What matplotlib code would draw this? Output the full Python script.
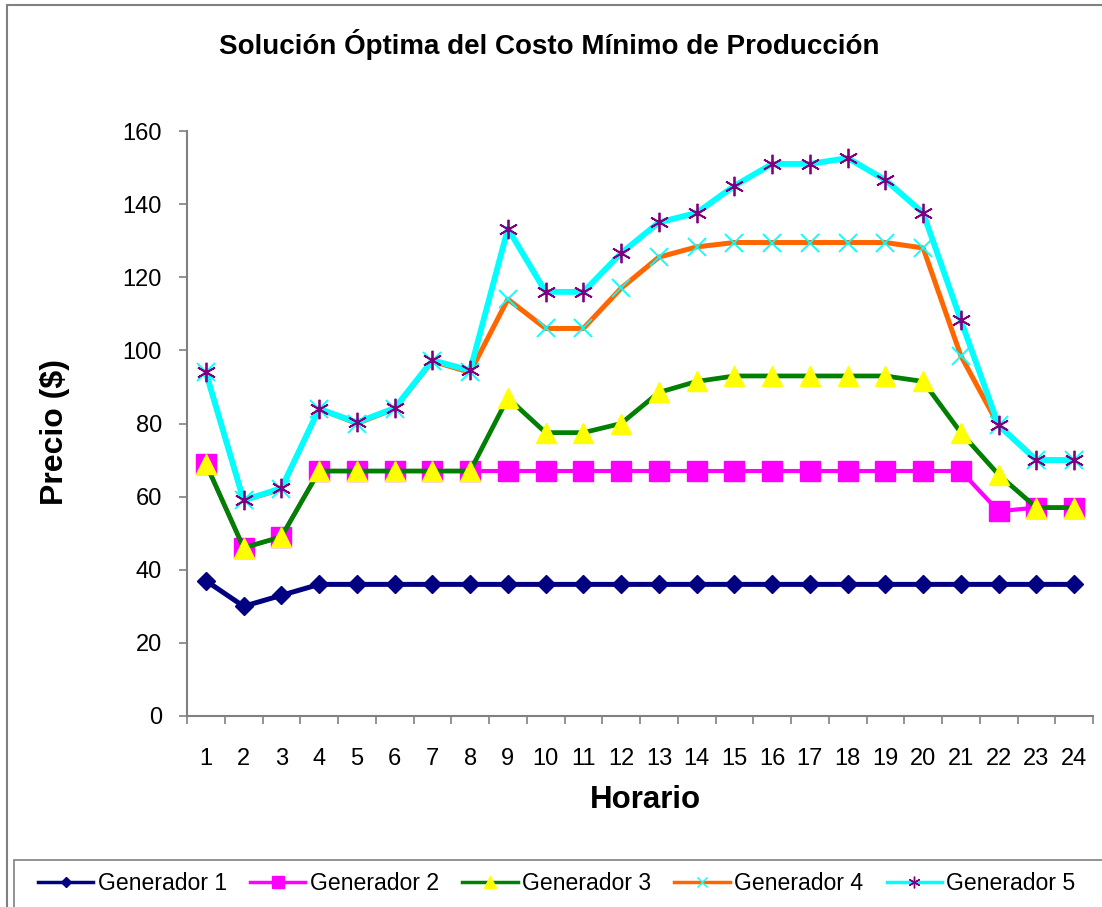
import matplotlib.pyplot as plt
from matplotlib.lines import Line2D
from matplotlib.patches import Rectangle

plt.rcParams['font.family'] = ['Liberation Sans', 'DejaVu Sans']

# datos
horas = list(range(1, 25))
gen1 = [37, 30, 33, 36, 36, 36, 36, 36, 36, 36, 36, 36,
        36, 36, 36, 36, 36, 36, 36, 36, 36, 36, 36, 36]
gen2 = [69, 46, 49, 67, 67, 67, 67, 67, 67, 67, 67, 67,
        67, 67, 67, 67, 67, 67, 67, 67, 67, 56, 57, 57]
gen3 = [69, 46, 49, 67, 67, 67, 67, 67, 87, 77.5, 77.5, 80,
        88.5, 91.5, 93, 93, 93, 93, 93, 91.5, 77.5, 66, 57, 57]
gen4 = [94, 59, 62, 84, 80, 84, 97, 94, 114, 106, 106, 117,
        125.5, 128.3, 129.5, 129.5, 129.5, 129.5, 129.5, 128, 98.5, 79.5, 70, 70]
gen5 = [94, 59, 62.3, 84, 80.3, 84.2, 97.3, 94.5, 133.3, 116, 116, 126.6,
        135, 137.6, 145, 151, 151, 152.6, 146.6, 137.6, 108.2, 79.5, 70, 70]
nombres = ['Generador 1', 'Generador 2', 'Generador 3', 'Generador 4', 'Generador 5']

W, H = 1102, 907
fig = plt.figure(figsize=(W / 100, H / 100), dpi=100)
ax = fig.add_axes([187 / W, 1 - 716 / H, (1093 - 187) / W, (716 - 131) / H])

# estilo de cada serie: color linea, marcador, tam, relleno, borde
estilos = [
    dict(color='#000080', marker='D', ms=9, mfc='#000080', mec='#000080', mew=1),
    dict(color='#FF00FF', marker='s', ms=14, mfc='#FF00FF', mec='#FF00FF', mew=1),
    dict(color='#008000', marker='^', ms=15, mfc='#FFFF00', mec='#FFFF00', mew=1),
    dict(color='#FF6600', marker='x', ms=13, mfc='none', mec='#00FFFF', mew=1.3),
    dict(color='#00FFFF', marker=(6, 2, 0), ms=14, mfc='none', mec='#800080', mew=1.3),
]
series = [gen1, gen2, gen3, gen4, gen5]
anchos = [3.6, 3.0, 3.4, 3.6, 4.2]

for i, (y, st) in enumerate(zip(series, estilos)):
    ax.plot(horas, y, color=st['color'], lw=anchos[i], marker=st['marker'],
            markersize=st['ms'], markerfacecolor=st['mfc'],
            markeredgecolor=st['mec'], markeredgewidth=st['mew'],
            zorder=3 + i, clip_on=False)

ax.set_xlim(0.5, 24.5)
ax.set_ylim(0, 160)
ax.set_yticks(range(0, 161, 20))
ax.set_xticks(horas)
ax.set_xticklabels([str(h) for h in horas])
ax.set_xticks([h + 0.5 for h in range(0, 25)], minor=True)
ax.tick_params(axis='x', which='major', length=0, pad=23, labelsize=17)
ax.tick_params(axis='x', which='minor', length=6, width=1.2, color='#808080', direction='out')
ax.tick_params(axis='y', which='major', length=6, width=1.2, color='#808080',
               direction='out', pad=12, labelsize=17)
for s in ['top', 'right']:
    ax.spines[s].set_visible(False)
for s in ['left', 'bottom']:
    ax.spines[s].set_color('#808080')
    ax.spines[s].set_linewidth(1.5)

fig.text(549 / W, 1 - 45 / H, 'Solución Óptima del Costo Mínimo de Producción',
         ha='center', va='center', fontsize=20, fontweight='bold')
fig.text(55 / W, 1 - 432 / H, 'Precio ($)', ha='center', va='center',
         rotation=90, fontsize=23, fontweight='bold')
fig.text(645 / W, 1 - 800 / H, 'Horario', ha='center', va='center',
         fontsize=22.5, fontweight='bold')

# bordes del grafico y de la leyenda
fig.add_artist(Rectangle((7 / W, 1 - 920 / H), 1200 / W, (920 - 5) / H,
                         transform=fig.transFigure, fill=False,
                         edgecolor='#808080', lw=1.5, clip_on=False))
fig.add_artist(Rectangle((14 / W, 1 - 920 / H), 1200 / W, (920 - 860) / H,
                         transform=fig.transFigure, fill=False,
                         edgecolor='#808080', lw=1.2, clip_on=False))

handles = []
for i, st in enumerate(estilos):
    handles.append(Line2D([], [], color=st['color'], lw=2.5, marker=st['marker'],
                          markersize=st['ms'] * 0.6, markerfacecolor=st['mfc'],
                          markeredgecolor=st['mec'], markeredgewidth=1))
fig.legend(handles, nombres, loc='center left', bbox_to_anchor=(38 / W, 1 - 884 / H),
           ncol=5, frameon=False, fontsize=16.6, borderpad=0, borderaxespad=0,
           handlelength=2.4, handletextpad=0.2, columnspacing=1.0)

fig.savefig('out.png', dpi=100)
